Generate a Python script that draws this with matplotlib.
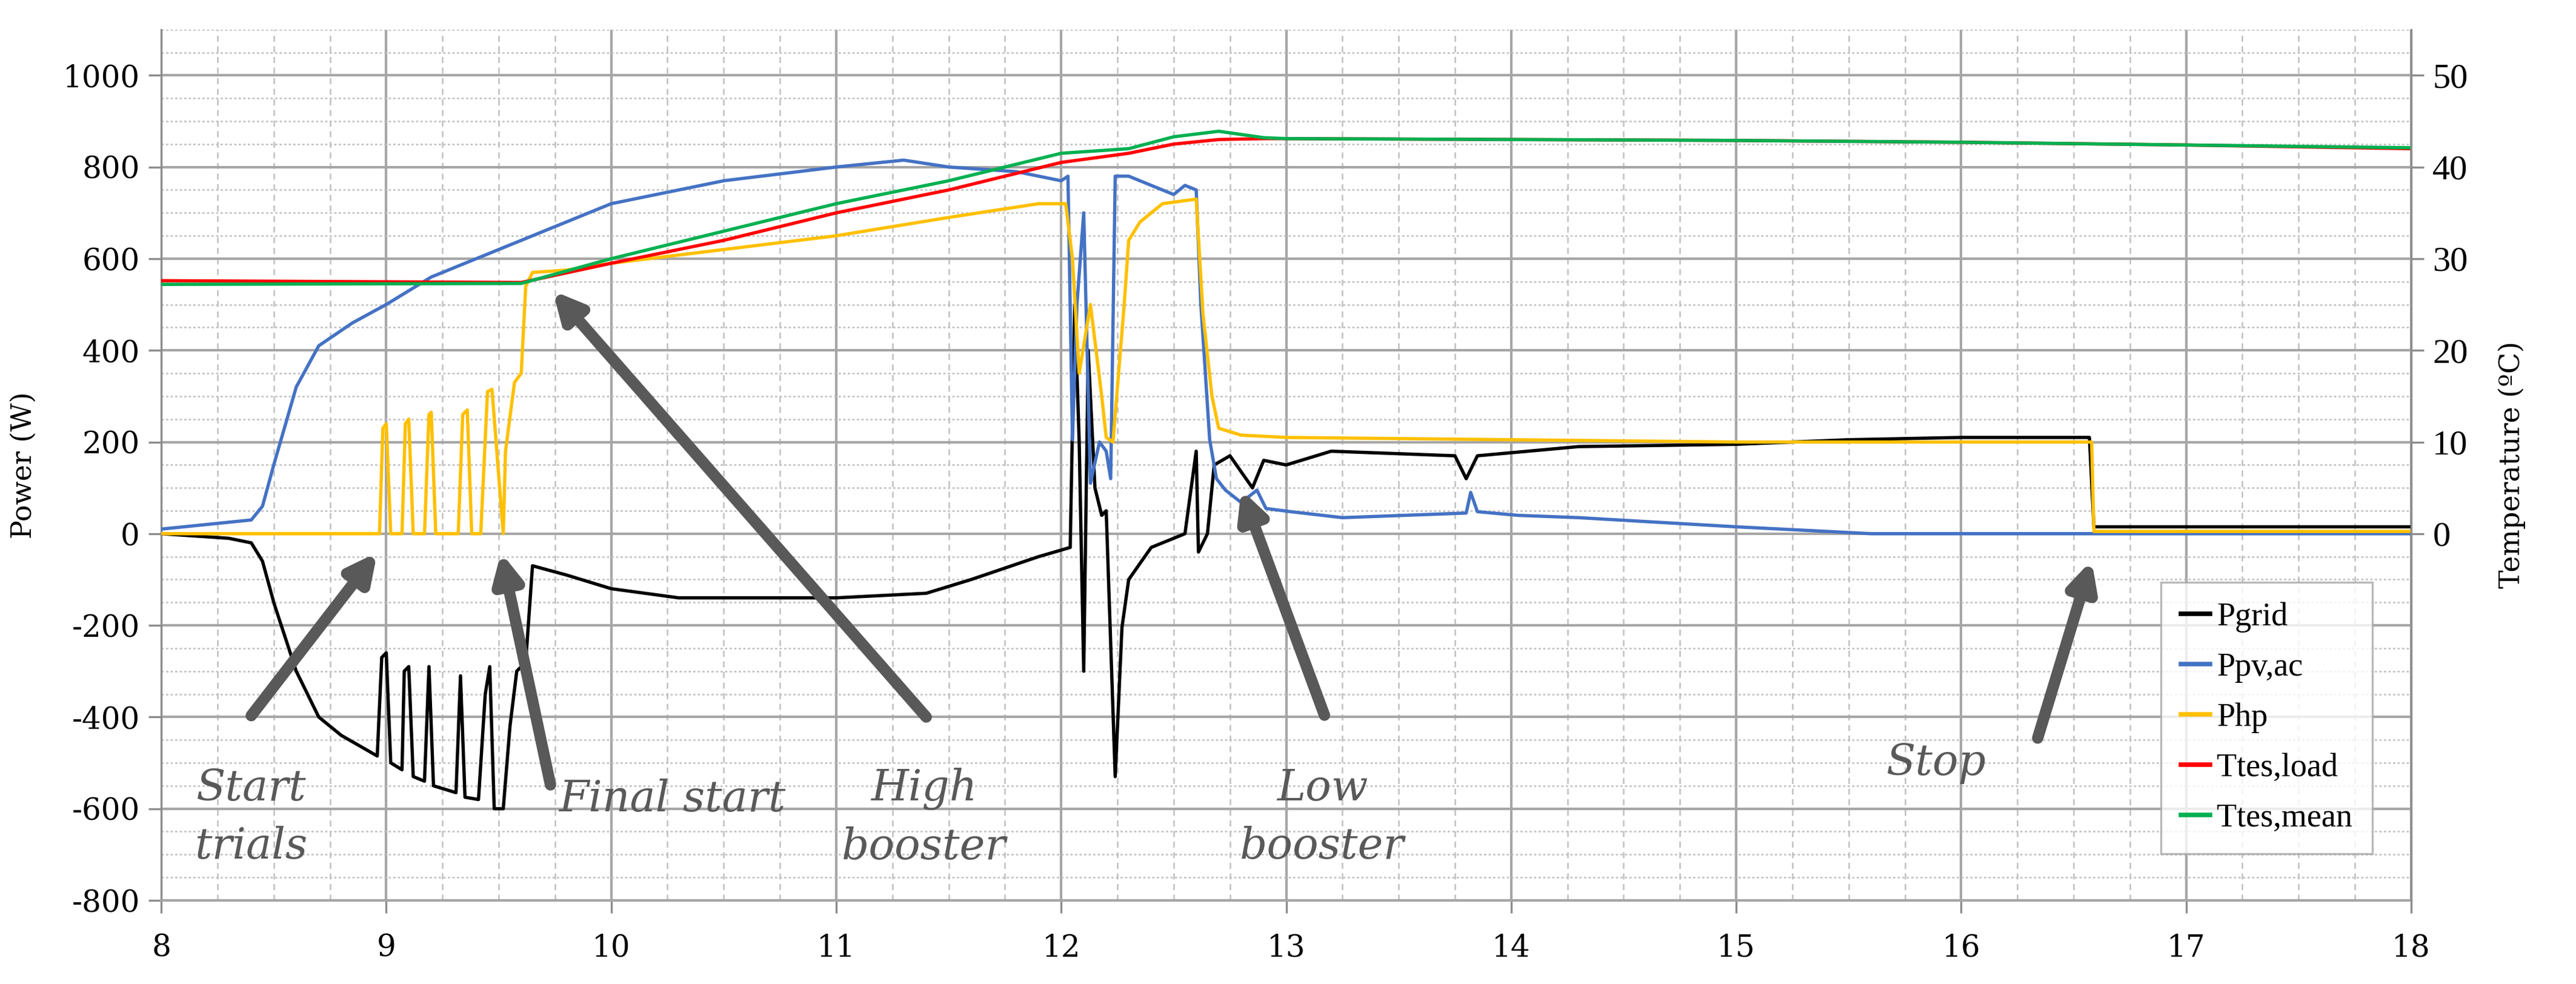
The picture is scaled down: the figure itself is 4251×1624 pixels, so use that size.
import matplotlib
matplotlib.use("Agg")
import matplotlib.pyplot as plt
from matplotlib.ticker import MultipleLocator
from matplotlib.lines import Line2D

plt.rcParams["axes.unicode_minus"] = False

# ---- data (hours, W / degC) ----
t_grid = [8, 8.3, 8.4, 8.45, 8.5, 8.6, 8.7, 8.8, 8.96, 8.98, 9.0, 9.02, 9.07, 9.08, 9.1, 9.12,
          9.17, 9.19, 9.21, 9.31, 9.33, 9.35, 9.41, 9.44, 9.46, 9.48, 9.52, 9.55, 9.58, 9.62,
          9.65, 9.8, 10.0, 10.3, 11.0, 11.4, 11.6, 11.9, 12.04, 12.06, 12.08, 12.1, 12.12,
          12.15, 12.18, 12.2, 12.24, 12.27, 12.3, 12.4, 12.55, 12.6, 12.61, 12.65, 12.68,
          12.75, 12.85, 12.9, 13.0, 13.2, 13.75, 13.8, 13.85, 14.3, 15.0, 15.5, 16.0, 16.57,
          16.59, 18.0]
p_grid = [0, -10, -20, -60, -150, -300, -400, -440, -485, -270, -260, -500, -515, -300, -290,
          -530, -540, -290, -550, -565, -310, -575, -580, -350, -290, -600, -600, -420, -300,
          -280, -70, -90, -120, -140, -140, -130, -100, -50, -30, 500, 200, -300, 400,
          100, 40, 50, -530, -205, -100, -30, 0, 180, -40, 0, 150,
          170, 100, 160, 150, 180, 170, 120, 170, 190, 195, 205, 210, 210,
          15, 15]

t_pv = [8, 8.3, 8.4, 8.45, 8.5, 8.6, 8.7, 8.85, 9.0, 9.2, 9.5, 9.75, 10.0, 10.5, 11.0, 11.3,
        11.5, 11.8, 11.9, 12.0, 12.03, 12.05, 12.07, 12.1, 12.13, 12.17, 12.2, 12.22, 12.24,
        12.3, 12.4, 12.5, 12.55, 12.6, 12.62, 12.66, 12.69, 12.73, 12.8, 12.87, 12.91, 13.02,
        13.25, 13.8, 13.82, 13.85, 14.03, 14.3, 15.0, 15.6, 18.0]
p_pv = [10, 25, 30, 60, 150, 320, 410, 460, 500, 560, 620, 670, 720, 770, 800, 815,
        800, 790, 780, 770, 780, 205, 500, 700, 110, 200, 180, 120, 780,
        780, 760, 740, 760, 750, 505, 205, 120, 95, 68, 95, 55, 48,
        35, 45, 90, 48, 40, 35, 15, 0, 0]

t_hp = [8, 8.97, 8.985, 9.0, 9.02, 9.07, 9.085, 9.1, 9.12, 9.17, 9.19, 9.2, 9.22, 9.32, 9.34,
        9.36, 9.38, 9.42, 9.45, 9.47, 9.52, 9.53, 9.57, 9.6, 9.62, 9.65, 9.8, 10.0, 10.5, 11.0,
        11.5, 11.9, 12.02, 12.05, 12.08, 12.13, 12.18, 12.2, 12.23, 12.28, 12.3, 12.35, 12.45,
        12.6, 12.63, 12.67, 12.7, 12.8, 13.0, 14.0, 15.0, 16.0, 16.58, 16.59, 18.0]
p_hp = [0, 0, 230, 240, 0, 0, 240, 250, 0, 0, 260, 265, 0, 0, 260,
        270, 0, 0, 310, 315, 0, 180, 330, 350, 540, 570, 575, 590, 620, 650,
        690, 720, 720, 600, 350, 500, 300, 210, 200, 500, 640, 680, 720,
        730, 480, 300, 230, 215, 210, 205, 200, 200, 200, 5, 5]

t_temp = [8, 9.6, 10.0, 10.5, 11.0, 11.5, 12.0, 12.3, 12.5, 12.7, 12.9, 13.0, 15.0, 16.0, 17.0, 18.0]
T_load = [27.6, 27.4, 29.5, 32.0, 35.0, 37.5, 40.5, 41.5, 42.5, 43.0, 43.1, 43.1, 42.9, 42.7, 42.4, 42.0]
T_mean = [27.2, 27.3, 30.0, 33.0, 36.0, 38.5, 41.5, 42.0, 43.3, 43.9, 43.2, 43.1, 42.9, 42.7, 42.4, 42.1]

labels = ["Pgrid", "Ppv,ac", "Php", "Ttes,load", "Ttes,mean"]
colors = ["#000000", "#4472C4", "#FFC000", "#FF0000", "#00B050"]

annotations = [
    ("Start\ntrials", (8.40, -620), (8.40, -397), (8.96, -41)),
    ("Final start", (10.27, -580), (9.73, -548), (9.51, -41)),
    ("High\nbooster", (11.39, -620), (11.40, -400), (9.74, 530)),
    ("Low\nbooster", (13.16, -620), (13.17, -396), (12.80, 96)),
    ("Stop", (15.89, -500), (16.34, -446), (16.58, -58)),
]

fig = plt.figure(figsize=(4251 / 300, 1624 / 300), dpi=300)
ax = fig.add_axes([0.0626, 0.085, 0.936 - 0.0626, 0.970 - 0.085])
ax2 = ax.twinx()

lw = 1.3
ax.plot(t_grid, p_grid, color=colors[0], lw=lw, zorder=3)
ax.plot(t_pv, p_pv, color=colors[1], lw=lw, zorder=3)
ax.plot(t_hp, p_hp, color=colors[2], lw=lw, zorder=4)
ax2.plot(t_temp, T_load, color=colors[3], lw=lw)
ax2.plot(t_temp, T_mean, color=colors[4], lw=lw)

ax.set_xlim(8, 18)
ax.set_ylim(-800, 1100)
ax2.set_ylim(-40, 55)
ax.set_xticks(range(8, 19))
ax.set_yticks(range(-800, 1001, 200))
ax2.set_yticks(range(0, 51, 10))
ax.xaxis.set_minor_locator(MultipleLocator(0.25))
ax.yaxis.set_minor_locator(MultipleLocator(50))
ax.grid(which="major", color="#a6a6a6", lw=1.0)
ax.grid(which="minor", axis="x", color="#c0c0c0", lw=0.6, ls=(0, (4, 3)))
ax.grid(which="minor", axis="y", color="#c0c0c0", lw=0.6, ls=(0, (1.5, 1.5)))
ax.set_axisbelow(True)

for a in (ax, ax2):
    for s in a.spines.values():
        s.set_visible(False)
ax.spines["left"].set_visible(True)
ax.spines["left"].set_color("#8c8c8c")
ax2.spines["right"].set_visible(True)
ax2.spines["right"].set_color("#8c8c8c")
ax.spines["bottom"].set_visible(True)
ax.spines["bottom"].set_color("#a6a6a6")
ax.tick_params(axis="x", which="major", length=5, color="#8c8c8c", labelsize=12, pad=8)
ax.tick_params(axis="y", which="major", length=5, color="#8c8c8c", labelsize=12)
ax.tick_params(which="minor", length=0)
ax2.tick_params(axis="y", length=5, color="#8c8c8c", labelsize=14)
for lab in ax.get_xticklabels() + ax.get_yticklabels():
    lab.set_fontfamily("DejaVu Serif")
for lab in ax2.get_yticklabels():
    lab.set_fontfamily("Liberation Serif")
ax.set_ylabel("Power (W)", family="DejaVu Serif", fontsize=11, labelpad=10)
ax2.set_ylabel("Temperature (ºC)", family="DejaVu Serif", fontsize=11, labelpad=12)

for text, tpos, tail, head in annotations:
    ax2.annotate("", xy=head, xytext=tail, xycoords=ax.transData, textcoords=ax.transData,
                 arrowprops=dict(arrowstyle="-|>,head_length=0.9,head_width=0.45",
                                 color="#595959", lw=4.5, shrinkA=0, shrinkB=0))
    ax2.text(tpos[0], tpos[1], text, transform=ax.transData, ha="center", va="center",
             family="DejaVu Serif", style="italic", fontsize=17, color="#595959",
             linespacing=1.5)

handles = [Line2D([], [], color=c, lw=1.8) for c in colors]
leg = ax2.legend(handles, labels, loc="lower right", bbox_to_anchor=(0.99, 0.035),
                 prop={"family": "Liberation Serif", "size": 13}, frameon=True,
                 fancybox=False, edgecolor="#a6a6a6", handlelength=0.9, handletextpad=0.2,
                 borderpad=0.6, labelspacing=0.6)
leg.get_frame().set_linewidth(0.8)

fig.savefig("out.png", dpi=300)
